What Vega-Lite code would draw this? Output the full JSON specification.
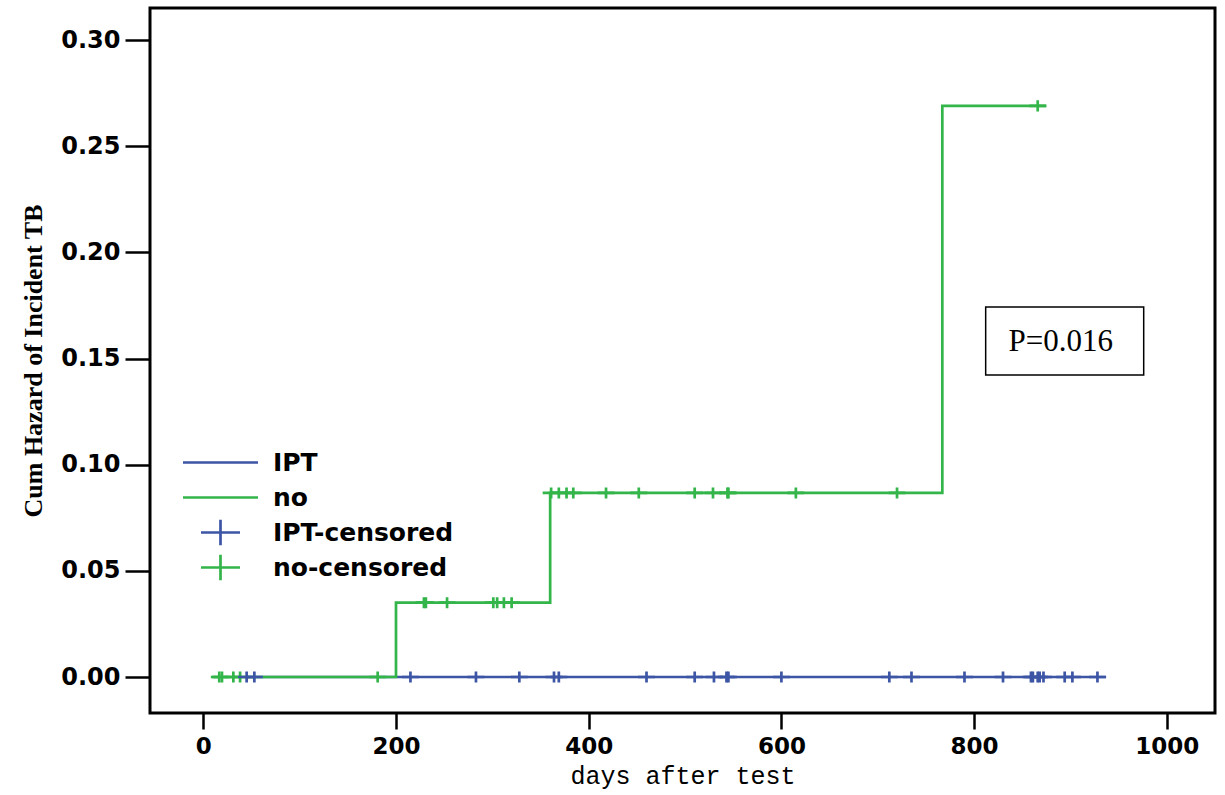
{
  "$schema": "https://vega.github.io/schema/vega-lite/v6.json",
  "width": 1065,
  "height": 705,
  "autosize": {"type": "none"},
  "padding": {"left": 150, "top": 8, "right": 10, "bottom": 82},
  "background": "white",
  "config": {
    "view": {"stroke": "black", "strokeWidth": 3},
    "axis": {"domain": false, "grid": false, "tickColor": "black", "tickWidth": 2.5, "labelColor": "black", "titleColor": "black"}
  },
  "datasets": {
    "lines": [
      {"day": 45, "hazard": 0, "group": "IPT"},
      {"day": 937, "hazard": 0, "group": "IPT"},
      {"day": 9, "hazard": 0, "group": "no"},
      {"day": 200, "hazard": 0.035, "group": "no"},
      {"day": 360, "hazard": 0.0867, "group": "no"},
      {"day": 767, "hazard": 0.269, "group": "no"},
      {"day": 875, "hazard": 0.269, "group": "no"}
    ],
    "censored": [
      {"day": 16.6, "hazard": 0, "group": "no-censored"},
      {"day": 19.4, "hazard": 0, "group": "no-censored"},
      {"day": 31.2, "hazard": 0, "group": "no-censored"},
      {"day": 38.2, "hazard": 0, "group": "no-censored"},
      {"day": 181, "hazard": 0, "group": "no-censored"},
      {"day": 229, "hazard": 0.035, "group": "no-censored"},
      {"day": 231, "hazard": 0.035, "group": "no-censored"},
      {"day": 253, "hazard": 0.035, "group": "no-censored"},
      {"day": 301, "hazard": 0.035, "group": "no-censored"},
      {"day": 305, "hazard": 0.035, "group": "no-censored"},
      {"day": 312, "hazard": 0.035, "group": "no-censored"},
      {"day": 320, "hazard": 0.035, "group": "no-censored"},
      {"day": 361, "hazard": 0.0867, "group": "no-censored"},
      {"day": 369, "hazard": 0.0867, "group": "no-censored"},
      {"day": 377, "hazard": 0.0867, "group": "no-censored"},
      {"day": 384, "hazard": 0.0867, "group": "no-censored"},
      {"day": 418, "hazard": 0.0867, "group": "no-censored"},
      {"day": 452, "hazard": 0.0867, "group": "no-censored"},
      {"day": 510, "hazard": 0.0867, "group": "no-censored"},
      {"day": 529, "hazard": 0.0867, "group": "no-censored"},
      {"day": 544, "hazard": 0.0867, "group": "no-censored"},
      {"day": 545, "hazard": 0.0867, "group": "no-censored"},
      {"day": 615, "hazard": 0.0867, "group": "no-censored"},
      {"day": 720, "hazard": 0.0867, "group": "no-censored"},
      {"day": 866, "hazard": 0.269, "group": "no-censored"},
      {"day": 45, "hazard": 0, "group": "IPT-censored"},
      {"day": 53, "hazard": 0, "group": "IPT-censored"},
      {"day": 215, "hazard": 0, "group": "IPT-censored"},
      {"day": 283, "hazard": 0, "group": "IPT-censored"},
      {"day": 328, "hazard": 0, "group": "IPT-censored"},
      {"day": 364, "hazard": 0, "group": "IPT-censored"},
      {"day": 369, "hazard": 0, "group": "IPT-censored"},
      {"day": 460, "hazard": 0, "group": "IPT-censored"},
      {"day": 510, "hazard": 0, "group": "IPT-censored"},
      {"day": 530, "hazard": 0, "group": "IPT-censored"},
      {"day": 543, "hazard": 0, "group": "IPT-censored"},
      {"day": 545, "hazard": 0, "group": "IPT-censored"},
      {"day": 600, "hazard": 0, "group": "IPT-censored"},
      {"day": 712, "hazard": 0, "group": "IPT-censored"},
      {"day": 735, "hazard": 0, "group": "IPT-censored"},
      {"day": 790, "hazard": 0, "group": "IPT-censored"},
      {"day": 830, "hazard": 0, "group": "IPT-censored"},
      {"day": 859, "hazard": 0, "group": "IPT-censored"},
      {"day": 861, "hazard": 0, "group": "IPT-censored"},
      {"day": 866, "hazard": 0, "group": "IPT-censored"},
      {"day": 868, "hazard": 0, "group": "IPT-censored"},
      {"day": 872, "hazard": 0, "group": "IPT-censored"},
      {"day": 894, "hazard": 0, "group": "IPT-censored"},
      {"day": 902, "hazard": 0, "group": "IPT-censored"},
      {"day": 928, "hazard": 0, "group": "IPT-censored"}
    ],
    "pbox": [
      {"x1": 812, "x2": 976, "y1": 0.1743, "y2": 0.1422, "xc": 890, "yc": 0.1578, "label": "P=0.016"}
    ]
  },
  "layer": [
    {
      "data": {"name": "lines"},
      "transform": [{"filter": "datum.group === 'IPT'"}],
      "mark": {"type": "line", "interpolate": "step-after", "strokeWidth": 2.7},
      "encoding": {
        "x": {"field": "day", "type": "quantitative"},
        "y": {"field": "hazard", "type": "quantitative"},
        "color": {"field": "group", "type": "nominal"}
      }
    },
    {
      "data": {"name": "lines"},
      "transform": [{"filter": "datum.group === 'no'"}],
      "mark": {"type": "line", "interpolate": "step-after", "strokeWidth": 2.7},
      "encoding": {
        "x": {"field": "day", "type": "quantitative"},
        "y": {"field": "hazard", "type": "quantitative"},
        "color": {"field": "group", "type": "nominal"}
      }
    },
    {
      "data": {"name": "censored"},
      "mark": {"type": "point", "filled": false, "strokeWidth": 2.7, "size": 169, "opacity": 1},
      "encoding": {
        "x": {
          "field": "day", "type": "quantitative",
          "scale": {"domain": [-55.3, 1050], "nice": false, "zero": false},
          "axis": {
            "values": [0, 200, 400, 600, 800, 1000],
            "format": "d",
            "tickSize": 16,
            "labelFont": "DejaVu Sans", "labelFontWeight": "bold", "labelFontSize": 23,
            "labelPadding": 6,
            "title": "days after test",
            "titleFont": "Liberation Mono", "titleFontWeight": "normal", "titleFontSize": 25,
            "titlePadding": 5
          }
        },
        "y": {
          "field": "hazard", "type": "quantitative",
          "scale": {"domain": [-0.01695, 0.3151], "nice": false, "zero": false},
          "axis": {
            "values": [0, 0.05, 0.1, 0.15, 0.2, 0.25, 0.3],
            "format": ".2f",
            "tickSize": 25,
            "labelFont": "DejaVu Sans", "labelFontWeight": "bold", "labelFontSize": 24,
            "labelPadding": 5,
            "title": "Cum Hazard of Incident TB",
            "titleFont": "Liberation Serif", "titleFontWeight": "bold", "titleFontSize": 26,
            "titlePadding": 14
          }
        },
        "color": {
          "field": "group", "type": "nominal",
          "scale": {"domain": ["IPT", "no", "IPT-censored", "no-censored"], "range": ["#3c55a5", "#33b54a", "#3c55a5", "#33b54a"]},
          "legend": {
            "title": null, "orient": "none", "legendX": 54, "legendY": 438,
            "padding": 0, "rowPadding": -10, "gridAlign": "all", "symbolSize": 900, "symbolStrokeWidth": 2.7,
            "labelFont": "DejaVu Sans", "labelFontWeight": "bold", "labelFontSize": 25, "labelColor": "black",
            "labelOffset": 36, "labelLimit": 500
          }
        },
        "shape": {
          "field": "group", "type": "nominal",
          "scale": {"domain": ["IPT", "no", "IPT-censored", "no-censored"], "range": ["M-2.5,0H2.5", "M-2.5,0H2.5", "M-1.3,0H1.3M0,-0.85V0.85", "M-1.3,0H1.3M0,-0.85V0.85"]},
          "legend": {
            "title": null, "orient": "none", "legendX": 54, "legendY": 438,
            "padding": 0, "rowPadding": -10, "gridAlign": "all", "symbolSize": 900, "symbolStrokeWidth": 2.7,
            "labelFont": "DejaVu Sans", "labelFontWeight": "bold", "labelFontSize": 25, "labelColor": "black",
            "labelOffset": 36, "labelLimit": 500
          }
        }
      }
    },
    {
      "data": {"name": "pbox"},
      "mark": {"type": "rect", "fill": "white", "stroke": "black", "strokeWidth": 1.5},
      "encoding": {
        "x": {"field": "x1", "type": "quantitative"},
        "x2": {"field": "x2"},
        "y": {"field": "y1", "type": "quantitative"},
        "y2": {"field": "y2"}
      }
    },
    {
      "data": {"name": "pbox"},
      "mark": {"type": "text", "font": "Liberation Serif", "fontSize": 31, "color": "black", "align": "center", "baseline": "middle"},
      "encoding": {
        "x": {"field": "xc", "type": "quantitative"},
        "y": {"field": "yc", "type": "quantitative"},
        "text": {"field": "label"}
      }
    }
  ]
}
